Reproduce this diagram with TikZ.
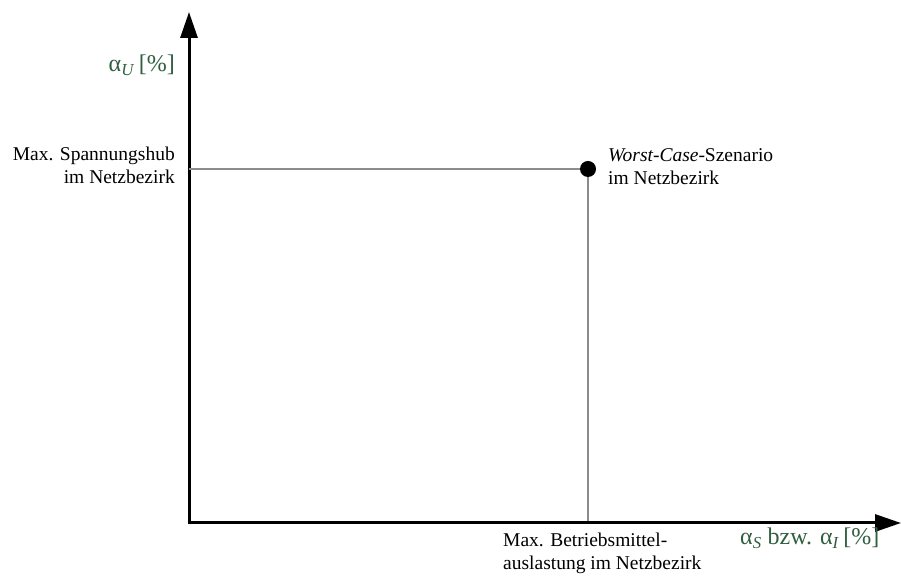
\documentclass[tikz,border=0pt]{standalone}
\usepackage{fontspec}
\setmainfont{Liberation Serif}
\usetikzlibrary{arrows.meta}
\definecolor{axislabel}{RGB}{47,95,63}
\begin{document}
\begin{tikzpicture}[x=1pt,y=1pt,
  axis/.style={line width=3pt,-{Triangle[length=26pt,width=17pt]}},
  guide/.style={line width=1.3pt,draw=black!45},
  txt/.style={inner sep=0pt,font=\fontsize{19.5}{23}\selectfont},
  lbl/.style={inner sep=0pt,text=axislabel,font=\fontsize{24}{28}\selectfont}]
\useasboundingbox (0,0) rectangle (901,580);
% axes
\coordinate (O) at (189,57);
\coordinate (ytip) at (189,568);
\coordinate (xtip) at (901,57);
\draw[axis] (189,55.5) -- (ytip);
\draw[axis] (187.5,57) -- (xtip);
% worst case point and guide lines
\coordinate (Wc) at (588,411);
\coordinate (Wy) at (189,411);
\coordinate (Wx) at (588,58.5);
\draw[guide] (Wy) -- (Wc);
\draw[guide] (Wc) -- (Wx);
\node[circle,fill=black,inner sep=0pt,minimum size=16pt] (W) at (Wc) {};
% labels
\node[lbl,anchor=base east] (ylab) at (175,508) {α\textsubscript{\textit{U}}\,[\%]};
\node[lbl,anchor=base west] (xlab) at (740,35) {α\textsubscript{\textit{S}} bzw. α\textsubscript{\textit{I}}\,[\%]};
\node[txt,anchor=north east,align=right] (umax) at (175,433) {Max. Spannungshub\\im Netzbezirk};
\node[txt,anchor=north west,align=left] (wc) at (608,432) {\textit{Worst-Case}-Szenario\\im Netzbezirk};
\node[txt,anchor=north west,align=left] (imax) at (503,47) {Max. Betriebsmittel-\\auslastung im Netzbezirk};
\end{tikzpicture}
\end{document}
